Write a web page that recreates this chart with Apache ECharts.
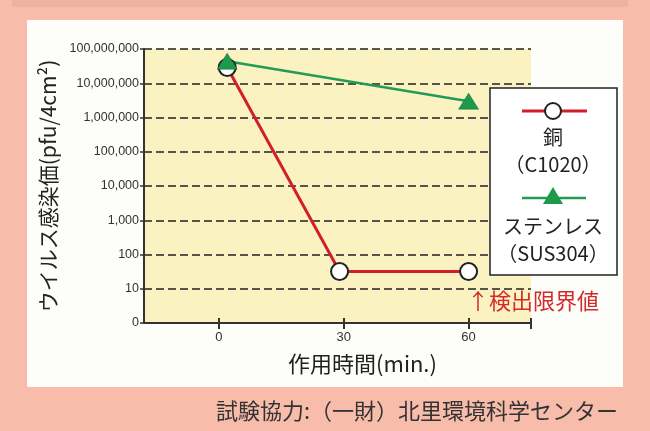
<!DOCTYPE html>
<html>
<head>
<meta charset="utf-8">
<script src="https://cdn.jsdelivr.net/npm/echarts@6/dist/echarts.min.js"></script>
<style>
html, body { margin: 0; padding: 0; background: #f7bcaa; }
#main { width: 650px; height: 431px; }
</style>
</head>
<body>
<div id="main"></div>
<script>
// 作用時間 (min.) と ウイルス感染価 (pfu/4cm²)
var copperTimes = [2, 29, 60];
var copperValues = [29000000, 32, 32];
var steelTimes = [2, 60];
var steelValues = [44000000, 3000000];
var xTickLabels = [0, 30, 60];
var yTickLabels = [1, 10, 100, 1000, 10000, 100000, 1000000, 10000000, 100000000];

var jp = 'Noto Sans CJK JP';

function pairs(xs, ys) {
	return xs.map(function (x, i) { return [x, ys[i]]; });
}

var myChart = echarts.init(document.getElementById('main'));

option = {
	backgroundColor: '#f7bcaa',
	animation: false,
	grid: {
		left: 144,
		top: 49,
		right: 119,
		bottom: 108,
		show: true,
		backgroundColor: '#fbf2c2',
		borderWidth: 0
	},
	xAxis: [{
		type: 'value',
		min: -18,
		max: 75,
		name: '作用時間(min.)',
		nameLocation: 'middle',
		nameGap: 30,
		nameTextStyle: {
			fontFamily: jp,
			fontSize: 22,
			color: '#222',
			padding: [0, 0, 0, 50]
		},
		axisLine: { onZero: false, lineStyle: { color: '#333', width: 2 } },
		axisTick: {
			length: 6,
			lineStyle: { color: '#333', width: 2 },
			customValues: [0, 30, 60, 75]
		},
		axisLabel: {
			customValues: xTickLabels,
			fontFamily: 'Liberation Sans',
			fontSize: 13,
			color: '#333',
			margin: 8
		},
		splitLine: { show: false }
	}, {
		type: 'value',
		min: -18,
		max: 75,
		position: 'bottom',
		axisLine: { show: false, onZero: false },
		axisTick: {
			inside: true,
			length: 5,
			lineStyle: { color: '#333', width: 2 },
			customValues: [0, 30, 60, 75]
		},
		axisLabel: { show: false },
		splitLine: { show: false }
	}],
	yAxis: {
		type: 'log',
		logBase: 10,
		min: 1,
		max: 100000000,
		name: 'ウイルス感染価(pfu/4cm²)',
		nameLocation: 'middle',
		nameRotate: 90,
		nameGap: 84,
		nameTextStyle: {
			fontFamily: jp,
			fontSize: 21,
			color: '#222'
		},
		axisLine: { show: true, onZero: false, lineStyle: { color: '#333', width: 2 } },
		axisTick: { show: true, length: 4, lineStyle: { color: '#333', width: 1.5 } },
		axisLabel: {
			fontFamily: 'Liberation Sans',
			fontSize: 12.5,
			color: '#333',
			margin: 5,
			formatter: function (v) {
				if (yTickLabels.indexOf(v) < 0) return '';
				return v === 1 ? '0' : v.toLocaleString('en-US');
			}
		},
		splitLine: {
			show: true,
			lineStyle: { color: '#222', type: [8, 4], width: 1.5 }
		}
	},
	series: [{
		name: '銅(C1020)',
		type: 'line',
		data: pairs(copperTimes, copperValues),
		symbol: 'circle',
		symbolSize: 17,
		lineStyle: { color: '#d11f2b', width: 3 },
		itemStyle: { color: '#fff', borderColor: '#222', borderWidth: 2 }
	}, {
		name: 'ステンレス(SUS304)',
		type: 'line',
		data: pairs(steelTimes, steelValues),
		symbol: 'triangle',
		symbolSize: [20, 16],
		lineStyle: { color: '#239a55', width: 2.5 },
		itemStyle: { color: '#1c9a4c', borderColor: '#11683a', borderWidth: 0.5 }
	}],
	graphic: [
		// 背景の枠
		{ type: 'rect', z: -10, shape: { x: 12, y: 0, width: 616, height: 7 }, style: { fill: '#eeb4a2' } },
		{ type: 'rect', z: -10, shape: { x: 27, y: 20, width: 596, height: 367 }, style: { fill: '#fdfdfa' } },
		// 凡例
		{ type: 'rect', z: 50, shape: { x: 490, y: 88, width: 127, height: 187 }, style: { fill: '#fff', stroke: '#222', lineWidth: 1.5 } },
		{ type: 'line', z: 51, shape: { x1: 522, y1: 111, x2: 587, y2: 111 }, style: { stroke: '#d11f2b', lineWidth: 3 } },
		{ type: 'circle', z: 52, shape: { cx: 553, cy: 111, r: 8 }, style: { fill: '#fff', stroke: '#222', lineWidth: 2 } },
		{ type: 'text', z: 52, style: { x: 553, y: 137, text: '銅', font: '20px "Noto Sans CJK JP"', fill: '#222', align: 'center', verticalAlign: 'middle' } },
		{ type: 'text', z: 52, style: { x: 553, y: 164, text: '（C1020）', font: '20px "Noto Sans CJK JP"', fill: '#222', align: 'center', verticalAlign: 'middle' } },
		{ type: 'line', z: 51, shape: { x1: 522, y1: 198, x2: 586, y2: 198 }, style: { stroke: '#239a55', lineWidth: 2.5 } },
		{ type: 'polygon', z: 52, shape: { points: [[553, 187], [563, 204], [543, 204]] }, style: { fill: '#1c9a4c' } },
		{ type: 'text', z: 52, style: { x: 553, y: 226, text: 'ステンレス', font: '20px "Noto Sans CJK JP"', fill: '#222', align: 'center', verticalAlign: 'middle' } },
		{ type: 'text', z: 52, style: { x: 553, y: 253, text: '（SUS304）', font: '20px "Noto Sans CJK JP"', fill: '#222', align: 'center', verticalAlign: 'middle' } },
		// 注記
		{ type: 'text', z: 52, style: { x: 467, y: 301, text: '↑検出限界値', font: '22px "Noto Sans CJK JP"', fill: '#d42a2a', align: 'left', verticalAlign: 'middle' } },
		{ type: 'text', z: 52, style: { x: 417, y: 411, text: '試験協力:（一財）北里環境科学センター', font: '22px "Noto Sans CJK JP"', fill: '#333', align: 'center', verticalAlign: 'middle' } }
	]
};

myChart.setOption(option);
</script>
</body>
</html>
